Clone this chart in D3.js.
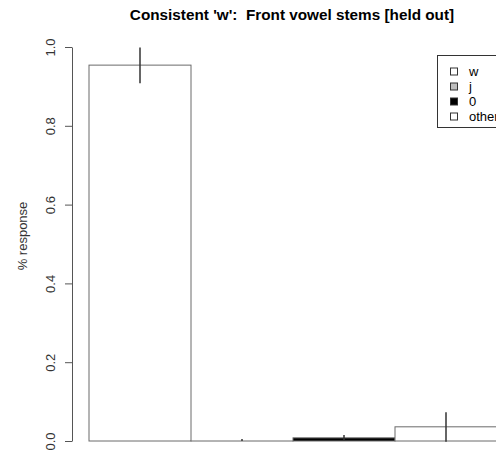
<!DOCTYPE html>
<meta charset="utf-8">
<style>
body { margin: 0; background: #fff; }
text { font-family: "Liberation Sans", Arial, Helvetica, sans-serif; white-space: pre; }
</style>
<svg width="496" height="451"></svg>
<script src="https://cdn.jsdelivr.net/npm/d3@7"></script>
<script>

// values
var categories = ["w", "j", "0", "other"];
var values = [0.954, 0, 0.008, 0.036];
var errLow = [0.908, 0, 0.002, -0.002];
var errHigh = [0.999, 0, 0.015, 0.073];
var fills = ["#ffffff", "#bebebe", "#000000", "#ffffff"];
var yTicks = [0, 0.2, 0.4, 0.6, 0.8, 1.0];

var svg = d3.select("svg");

var x = d3.scaleBand()
    .domain(categories)
    .range([89, 497])
    .padding(0);

var y = d3.scaleLinear()
    .domain([0, 1])
    .range([441, 47]);

var z = d3.scaleOrdinal()
    .domain(categories)
    .range(fills);

// bars
svg.append("g").selectAll("rect")
    .data(categories)
    .enter().append("rect")
    .attr("x", function(d) { return x(d); })
    .attr("y", function(d, i) { return y(values[i]); })
    .attr("width", x.bandwidth())
    .attr("height", function(d, i) { return Math.max(y(0) - y(values[i]), 0.01); })
    .attr("fill", z)
    .attr("stroke", "#6a6a6a")
    .attr("stroke-width", 1);

// error bars
svg.append("g").selectAll("line")
    .data(categories)
    .enter().append("line")
    .attr("x1", function(d) { return x(d) + x.bandwidth() / 2; })
    .attr("x2", function(d) { return x(d) + x.bandwidth() / 2; })
    .attr("y1", function(d, i) { return y(errLow[i]); })
    .attr("y2", function(d, i) { return y(errHigh[i]) - (i == 1 ? 2 : 0); })
    .attr("stroke", "#333")
    .attr("stroke-width", 1.5);

// y axis
var yAxis = svg.append("g")
    .attr("transform", "translate(72,0)")
    .call(d3.axisLeft(y).tickValues(yTicks).tickFormat(d3.format(".1f")).tickSize(7).tickSizeOuter(0));

yAxis.select(".domain").attr("stroke", "#555");
yAxis.selectAll(".tick line").attr("stroke", "#555");
yAxis.selectAll(".tick text")
    .attr("x", 0)
    .attr("dy", 0)
    .attr("transform", "translate(-17,0) rotate(-90)")
    .attr("text-anchor", "middle")
    .attr("fill", "#333")
    .style("font-size", "13px");

svg.append("text")
    .attr("transform", "translate(27,236) rotate(-90)")
    .attr("text-anchor", "middle")
    .attr("fill", "#333")
    .style("font-size", "13px")
    .text("% response");

// title
svg.append("text")
    .attr("x", 292)
    .attr("y", 20)
    .attr("text-anchor", "middle")
    .style("font-size", "15.3px")
    .style("font-weight", "bold")
    .text("Consistent 'w':  Front vowel stems [held out]");

// legend
svg.append("rect")
    .attr("x", 437.5)
    .attr("y", 55.5)
    .attr("width", 120)
    .attr("height", 72)
    .attr("fill", "none")
    .attr("stroke", "#333");

var legend = svg.selectAll(".legend")
    .data(categories)
    .enter().append("g")
    .attr("class", "legend")
    .attr("transform", function(d, i) { return "translate(0," + (71.5 + i * 15) + ")"; });

legend.append("rect")
    .attr("x", 450.5)
    .attr("y", -3.5)
    .attr("width", 7)
    .attr("height", 7)
    .attr("fill", z)
    .attr("stroke", "#333");

legend.append("text")
    .attr("x", 469)
    .attr("dy", "0.35em")
    .style("font-size", "13px")
    .text(function(d) { return d; });

</script>
